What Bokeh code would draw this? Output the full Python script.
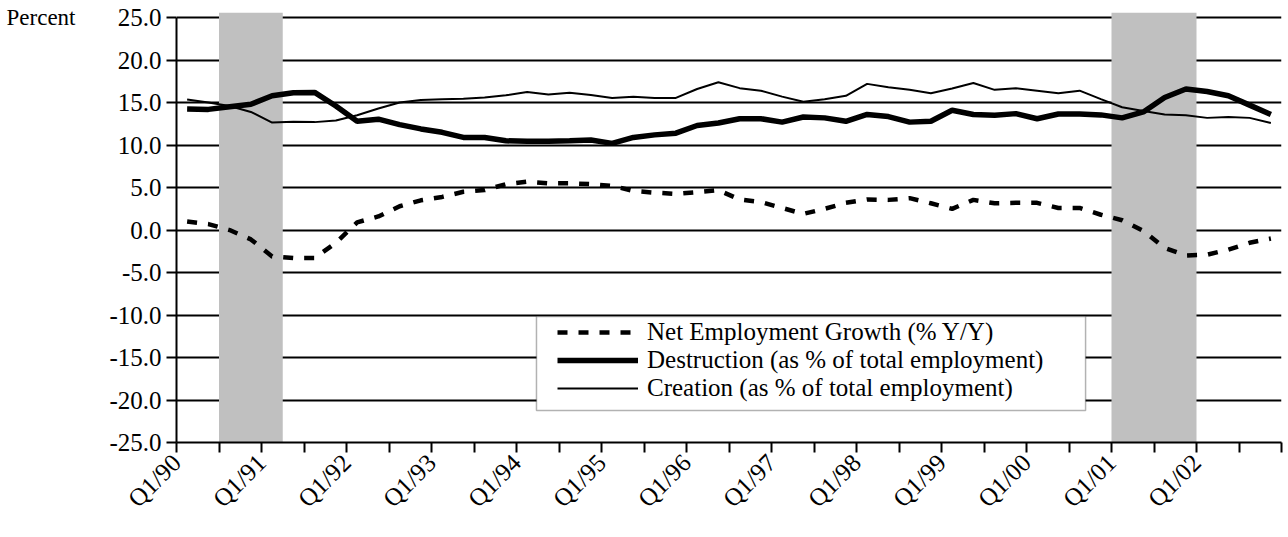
import numpy as np
from math import pi
from bokeh.plotting import figure
from bokeh.models import (FixedTicker, NumeralTickFormatter, Legend, LegendItem,
                          LinearAxis, BoxAnnotation, Range1d)
from bokeh.embed import file_html
from bokeh.resources import INLINE

# ---------------- data ----------------
tick_labels = ["Q1/90", "Q1/91", "Q1/92", "Q1/93", "Q1/94", "Q1/95", "Q1/96",
               "Q1/97", "Q1/98", "Q1/99", "Q1/00", "Q1/01", "Q1/02"]

net_growth = [1.0, 0.7, 0.0, -1.1, -3.1, -3.3, -3.3, -1.5, 0.9, 1.6,
              2.8, 3.5, 3.9, 4.5, 4.7, 5.4, 5.7, 5.5, 5.5, 5.4,
              5.2, 4.6, 4.4, 4.25, 4.45, 4.7, 3.6, 3.3, 2.6, 1.9,
              2.5, 3.2, 3.6, 3.55, 3.75, 3.15, 2.5, 3.55, 3.15, 3.2,
              3.2, 2.6, 2.6, 1.8, 1.15, -0.1, -2.1, -3.0, -2.9, -2.3,
              -1.5, -1.0]

destruction = [14.25, 14.2, 14.5, 14.8, 15.8, 16.15, 16.2, 14.6, 12.8, 13.05,
               12.4, 11.9, 11.5, 10.9, 10.9, 10.5, 10.45, 10.45, 10.5, 10.6,
               10.2, 10.9, 11.2, 11.4, 12.3, 12.6, 13.1, 13.1, 12.7, 13.3,
               13.2, 12.8, 13.6, 13.35, 12.7, 12.8, 14.1, 13.6, 13.5, 13.7,
               13.1, 13.65, 13.65, 13.55, 13.2, 13.9, 15.6, 16.6, 16.3, 15.8,
               14.7, 13.6]

creation = [15.35, 15.0, 14.6, 13.9, 12.65, 12.75, 12.7, 12.9, 13.5, 14.3,
            15.0, 15.3, 15.4, 15.45, 15.6, 15.85, 16.25, 15.95, 16.15, 15.9,
            15.55, 15.7, 15.55, 15.55, 16.6, 17.4, 16.7, 16.4, 15.7, 15.1,
            15.4, 15.8, 17.2, 16.8, 16.5, 16.1, 16.65, 17.3, 16.5, 16.7,
            16.4, 16.1, 16.4, 15.4, 14.45, 14.0, 13.6, 13.5, 13.2, 13.3,
            13.2, 12.6]

# recessions as quarter index ranges (start, end)
recession_start = [2, 44]
recession_end = [5, 48]

y_ticks = [-25, -20, -15, -10, -5, 0, 5, 10, 15, 20, 25]

# ---------------- figure ----------------
n = len(net_growth)
x = np.arange(n) + 0.5
FONT = "Liberation Serif"
FS = "25px"
Y_TOP = 25.6

p = figure(width=1288, height=537, output_backend="svg", toolbar_location=None,
           x_range=Range1d(0, n), y_range=Range1d(-25, Y_TOP),
           min_border_left=176, min_border_right=7, min_border_top=12,
           min_border_bottom=95)
p.outline_line_color = None
p.background_fill_color = "white"

# recession shading
p.quad(left=recession_start, right=recession_end, bottom=-25, top=Y_TOP,
       fill_color="#C0C0C0", line_color=None)

r_cre = p.line(x, creation, line_color="black", line_width=2)
r_des = p.line(x, destruction, line_color="black", line_width=5.5)
r_net = p.line(x, net_growth, line_color="black", line_width=4.5,
               line_dash="10 11")

# grid
p.xgrid.visible = False
p.ygrid.ticker = FixedTicker(ticks=y_ticks)
p.ygrid.grid_line_color = "black"
p.ygrid.grid_line_width = 2

# y axis
ya = p.yaxis[0]
ya.ticker = FixedTicker(ticks=y_ticks)
ya.formatter = NumeralTickFormatter(format="0.0")
ya.bounds = (-25, 25)

# x axis
xa = p.xaxis[0]
xa.ticker = FixedTicker(ticks=list(range(0, n + 1, 2)))
overrides = {t: "" for t in range(0, n + 1, 2)}
for k, lab in enumerate(tick_labels):
    overrides[4 * k] = lab
xa.major_label_overrides = overrides
xa.major_label_orientation = pi / 4

for ax in (xa, ya):
    ax.axis_line_color = "black"
    ax.axis_line_width = 2
    ax.major_tick_line_color = "black"
    ax.major_tick_line_width = 2
    ax.major_tick_out = 10
    ax.major_tick_in = 0
    ax.minor_tick_line_color = None
    ax.major_label_text_font = FONT
    ax.major_label_text_font_size = FS
    ax.major_label_text_color = "black"
ya.major_label_standoff = 5
xa.major_label_standoff = 6

# "Percent" unit label, as an outer left axis with a single labelled tick
unit_axis = LinearAxis(ticker=FixedTicker(ticks=[25]),
                       major_label_overrides={25: "Percent"},
                       axis_line_color=None, major_tick_line_color=None,
                       minor_tick_line_color=None, major_tick_out=0,
                       major_tick_in=0, major_label_standoff=31,
                       major_label_text_font=FONT, major_label_text_font_size="23px",
                       major_label_text_color="black")
p.add_layout(unit_axis, "left")

# legend box
p.add_layout(BoxAnnotation(left=16.94, right=42.78, top=-10.17, bottom=-21.24,
                           fill_color="white", fill_alpha=1.0,
                           line_color="black", line_width=1.5))

legend = Legend(items=[
    LegendItem(label="Net Employment Growth (% Y/Y)", renderers=[r_net]),
    LegendItem(label="Destruction (as % of total employment)", renderers=[r_des]),
    LegendItem(label="Creation (as % of total employment)", renderers=[r_cre]),
], location=(381, 40), border_line_color=None, background_fill_alpha=0,
    glyph_width=81, glyph_height=26, label_height=26, label_standoff=9,
    spacing=0, padding=0, margin=0, label_text_font=FONT,
    label_text_font_size=FS, label_text_color="black")
p.add_layout(legend)

open("out.html", "w").write(file_html(p, INLINE))
